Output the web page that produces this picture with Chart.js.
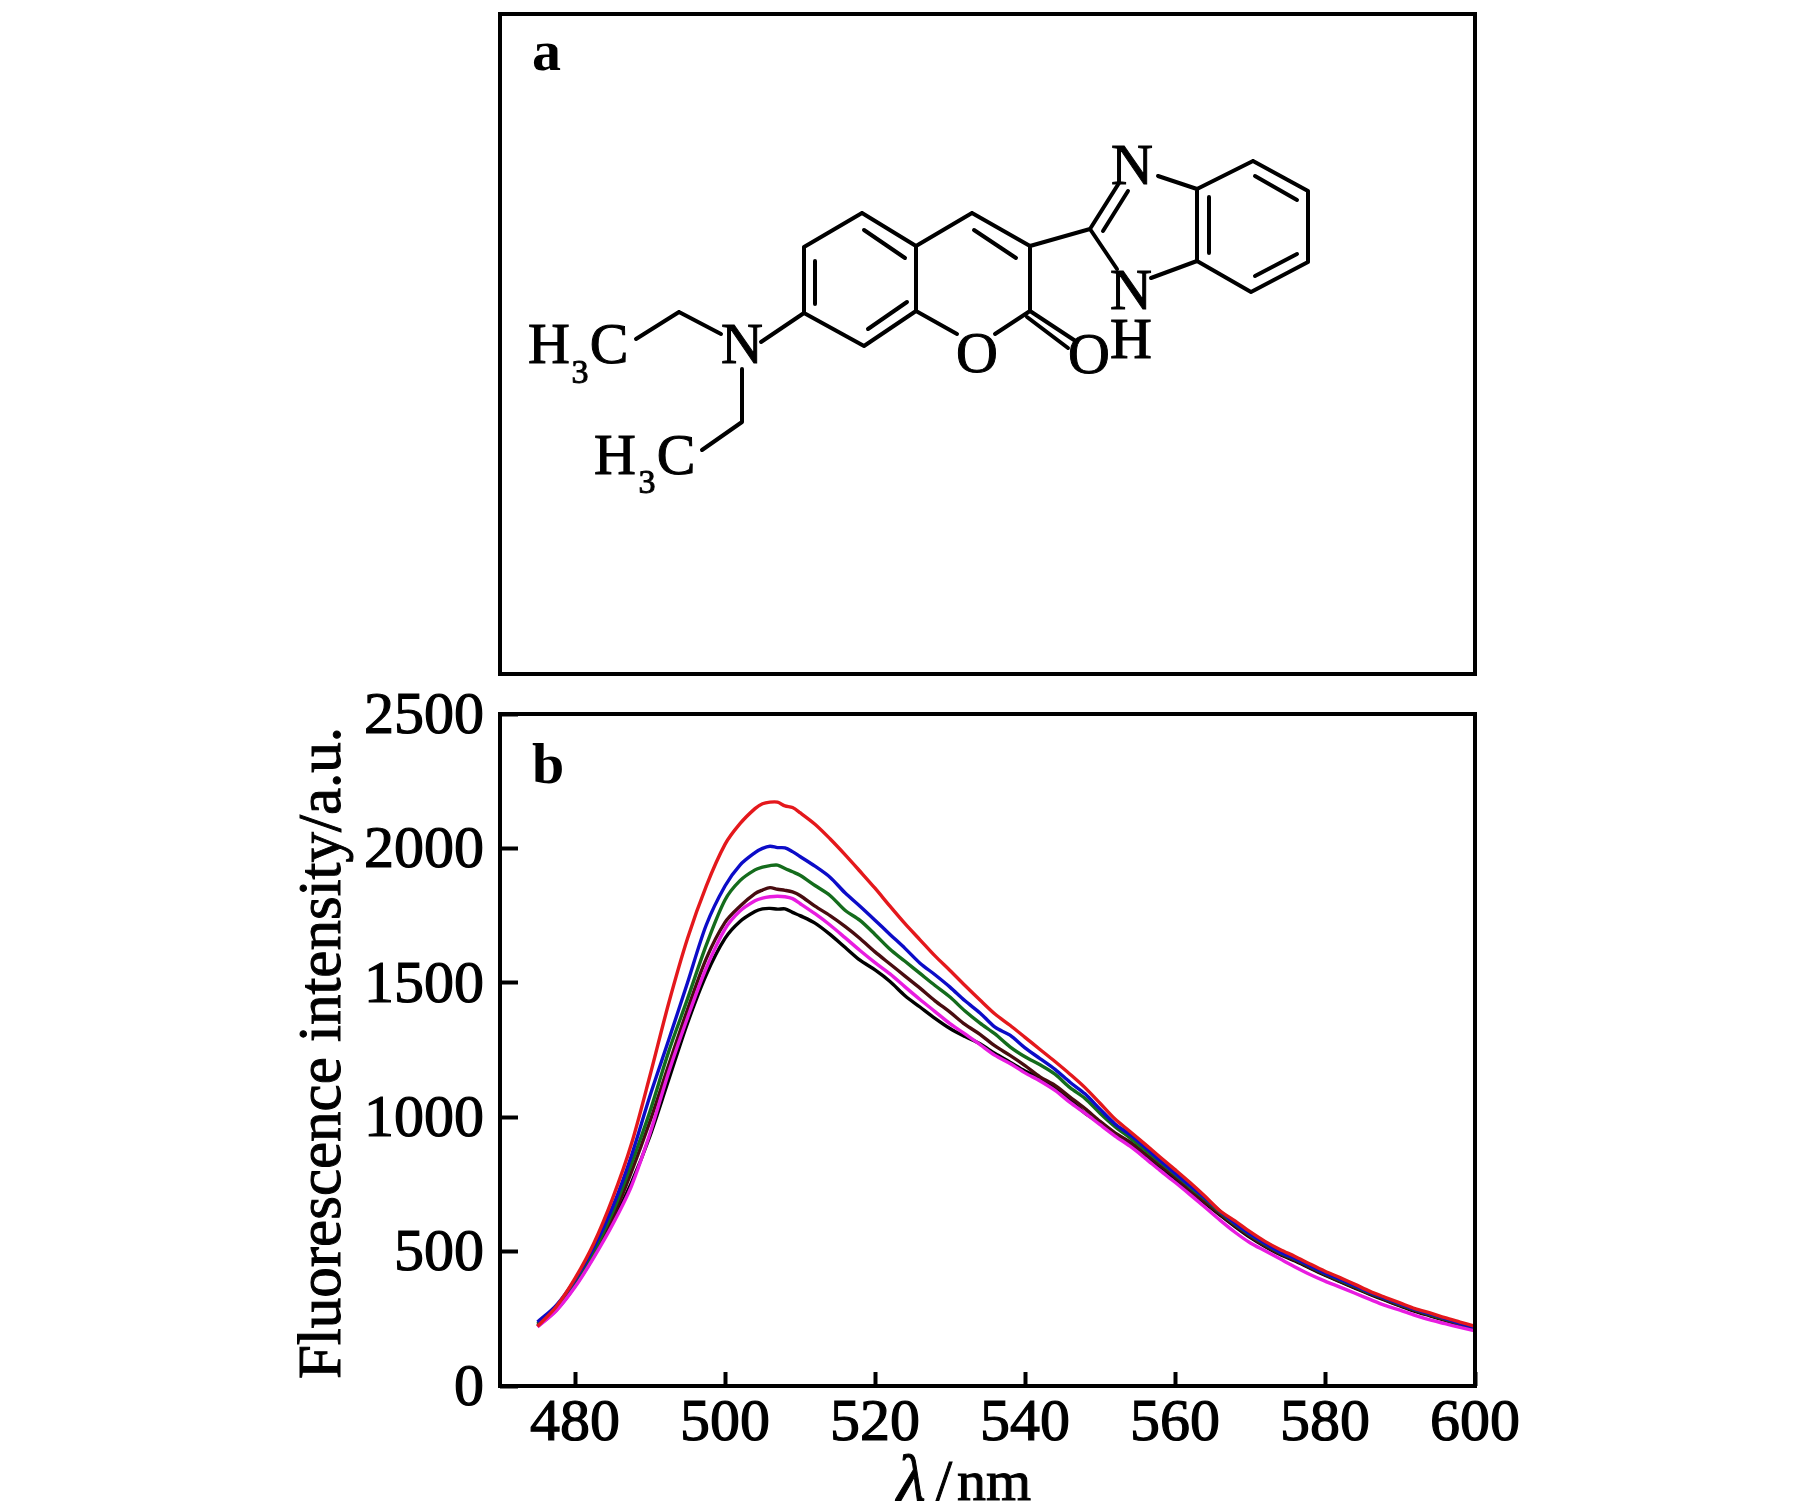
<!DOCTYPE html>
<html>
<head>
<meta charset="utf-8">
<style>
  html, body { margin: 0; padding: 0; background: #fff; }
  body { width: 1819px; height: 1512px; position: relative; overflow: hidden; }
  canvas { position: absolute; left: 0; }
  #structureChart { top: 0; }
  #spectraChart { top: 640px; }
</style>
<script src="https://cdn.jsdelivr.net/npm/chart.js@4/dist/chart.umd.min.js"></script>
</head>
<body>
<canvas id="structureChart" width="1819" height="690"></canvas>
<canvas id="spectraChart" width="1819" height="872"></canvas>
<script>
// Panel b data
const wavelengths = [475, 477.5, 480, 482.5, 485, 487.5, 490, 492.5, 495, 497.5, 500, 502, 504, 505, 506, 507, 508, 509, 510,
  512, 514, 516, 518, 520, 522, 524, 526, 528, 530, 532, 534, 536, 538, 540, 542, 544, 546, 548, 550, 552, 554, 556, 558,
  560, 562, 564, 566, 568, 570, 572, 574, 576, 578, 580, 582, 584, 586, 588, 590, 592, 594, 596, 598, 600];
const redSeries = [222, 295, 400, 530, 697, 898, 1155, 1425, 1665, 1860, 2015, 2092, 2148, 2166, 2172, 2172, 2158, 2152, 2133,
  2090, 2036, 1977, 1915, 1852, 1785, 1720, 1660, 1600, 1546, 1490, 1436, 1384, 1342, 1297, 1252, 1207, 1160, 1110, 1052, 993, 947, 900, 852,
  805, 757, 706, 652, 614, 574, 538, 508, 482, 454, 427, 403, 378, 352, 330, 309, 288, 272, 254, 238, 222];
const blueSeries = [238, 300, 395, 515, 665, 855, 1080, 1288, 1500, 1715, 1860, 1938, 1984, 2000, 2008, 2003, 2002, 1988, 1970,
  1934, 1893, 1835, 1785, 1733, 1680, 1628, 1573, 1530, 1484, 1433, 1388, 1335, 1305, 1258, 1218, 1178, 1130, 1087, 1030, 975, 935, 888, 839,
  792, 745, 700, 650, 605, 565, 530, 498, 474, 447, 420, 396, 372, 348, 326, 305, 285, 268, 251, 233, 217];
const greenSeries = [232, 292, 385, 500, 645, 825, 1022, 1245, 1440, 1640, 1808, 1880, 1920, 1930, 1936, 1938, 1925, 1913, 1900,
  1862, 1825, 1770, 1732, 1680, 1625, 1580, 1535, 1490, 1447, 1395, 1350, 1310, 1262, 1225, 1195, 1160, 1110, 1070, 1015, 965, 923, 878, 833,
  787, 740, 695, 647, 602, 562, 527, 496, 472, 445, 418, 394, 370, 346, 324, 303, 283, 266, 249, 232, 216];
const brownSeries = [226, 285, 378, 490, 625, 795, 985, 1195, 1400, 1590, 1725, 1785, 1832, 1845, 1854, 1848, 1844, 1838, 1825,
  1785, 1750, 1710, 1665, 1615, 1570, 1525, 1480, 1433, 1391, 1345, 1308, 1265, 1230, 1192, 1150, 1118, 1075, 1032, 985, 942, 908, 865, 821,
  777, 727, 684, 640, 597, 557, 522, 492, 468, 441, 414, 390, 366, 343, 321, 300, 280, 263, 246, 230, 214];
const magentaSeries = [220, 280, 368, 478, 600, 742, 940, 1168, 1370, 1555, 1700, 1767, 1805, 1815, 1820, 1822, 1820, 1813, 1795,
  1757, 1715, 1668, 1620, 1575, 1533, 1485, 1438, 1393, 1348, 1310, 1270, 1230, 1200, 1165, 1135, 1100, 1055, 1015, 972, 930, 892, 848, 802,
  758, 712, 665, 617, 572, 533, 503, 473, 443, 415, 390, 368, 345, 322, 300, 282, 263, 246, 232, 218, 205];
const blackSeries = [222, 282, 372, 482, 610, 755, 930, 1140, 1350, 1530, 1665, 1728, 1765, 1775, 1777, 1774, 1775, 1762, 1750,
  1722, 1680, 1632, 1584, 1548, 1505, 1452, 1410, 1368, 1330, 1300, 1273, 1237, 1205, 1172, 1145, 1108, 1065, 1015, 978, 938, 900, 855, 808,
  770, 722, 680, 636, 593, 553, 519, 489, 465, 438, 412, 388, 364, 341, 319, 298, 278, 261, 244, 228, 212];
const xTickValues = [480, 500, 520, 540, 560, 580, 600];
const yTickValues = [0, 500, 1000, 1500, 2000, 2500];

// Panel a: the molecule, as line segments x1, y1, x2, y2 in the panel's own units
const bondSegments = [
  [362, 199, 304, 233], [304, 233, 304, 299], [304, 299, 364, 332], [364, 332, 416, 297], [416, 297, 416, 232], [416, 232, 362, 199],
  [315, 247, 315, 290], [364, 216, 405, 244], [368, 315, 407, 288],
  [416, 232, 472, 199], [472, 199, 530, 232], [530, 232, 530, 297], [474, 216, 516, 244],
  [416, 297, 457, 320], [495, 320, 530, 297],
  [530, 297, 577, 328], [527, 303, 568, 334],
  [530, 232, 590, 215], [590, 215, 619, 169], [603, 217, 628, 177], [590, 215, 617, 255],
  [658, 162, 697, 175], [651, 264, 697, 247],
  [697, 175, 697, 247], [697, 175, 753, 147], [753, 147, 808, 177], [808, 177, 808, 248], [808, 248, 751, 278], [751, 278, 697, 247],
  [709, 183, 709, 239], [755, 162, 797, 186], [797, 240, 755, 262],
  [304, 299, 261, 328], [221, 320, 179, 298], [179, 298, 136, 325],
  [242, 355, 242, 408], [242, 408, 202, 436]
];
const atomLabels = [
  ['N', 242, 349, 58], ['H', 49, 349, 58], ['3', 80, 369, 34], ['C', 109, 349, 58],
  ['H', 115, 460, 58], ['3', 147, 479, 34], ['C', 176, 460, 58],
  ['O', 477, 358, 58], ['O', 589, 359, 58], ['H', 631, 344, 58],
  ['N', 632, 170, 58], ['N', 631, 295, 58]
];

const serif = '"Liberation Serif"';

// Text with a thin outline, the reference's type is heavier than the regular face
function heavyText(ctx, text, x, y, strokeWidth) {
  ctx.lineWidth = strokeWidth;
  ctx.strokeText(text, x, y);
  ctx.fillText(text, x, y);
}

// Frame shared by both panels, plus the panel letter
const framePlugin = {
  id: 'frame',
  afterDatasetsDraw(chart, args, opts) {
    const { ctx, chartArea: a } = chart;
    ctx.save();
    ctx.strokeStyle = '#000';
    ctx.lineWidth = 4;
    ctx.strokeRect(a.left, a.top, a.right - a.left, a.bottom - a.top);
    ctx.fillStyle = '#000';
    ctx.font = 'bold 58px ' + serif;
    ctx.textAlign = 'left';
    ctx.textBaseline = 'alphabetic';
    ctx.fillText(opts.letter, a.left + 32, a.top + opts.letterDrop);
    ctx.restore();
  }
};

const atomPlugin = {
  id: 'atoms',
  afterDatasetsDraw(chart) {
    const { ctx, scales } = chart;
    ctx.save();
    ctx.fillStyle = '#000';
    ctx.strokeStyle = '#000';
    ctx.textAlign = 'center';
    ctx.textBaseline = 'alphabetic';
    atomLabels.forEach(([text, x, y, size]) => {
      ctx.font = size + 'px ' + serif;
      heavyText(ctx, text, scales.x.getPixelForValue(x), scales.y.getPixelForValue(y), 1);
    });
    ctx.restore();
  }
};

// Axis titles: italic lambda and an outlined y title, which scale titles can't do
const axisTitlePlugin = {
  id: 'axisTitles',
  afterDraw(chart) {
    const { ctx } = chart;
    ctx.save();
    ctx.fillStyle = '#000';
    ctx.strokeStyle = '#000';
    ctx.textBaseline = 'alphabetic';
    ctx.textAlign = 'left';
    ctx.font = 'italic 66px ' + serif;
    heavyText(ctx, 'λ', 897, 860, 1);
    ctx.font = '58px ' + serif;
    heavyText(ctx, '/', 936, 860, 1);
    heavyText(ctx, 'nm', 957, 860, 1);
    ctx.translate(340, 413);
    ctx.rotate(-Math.PI / 2);
    ctx.textAlign = 'center';
    ctx.font = '61px ' + serif;
    heavyText(ctx, 'Fluorescence intensity/a.u.', 0, 0, 1);
    ctx.restore();
  }
};

new Chart(document.getElementById('structureChart'), {
  type: 'scatter',
  data: {
    datasets: [{
      data: bondSegments.flatMap(s => [{ x: s[0], y: s[1] }, { x: s[2], y: s[3] }, { x: null, y: null }]),
      showLine: true,
      pointRadius: 0,
      borderColor: '#000',
      borderWidth: 4,
      borderCapStyle: 'round',
      spanGaps: false
    }]
  },
  options: {
    responsive: false,
    animation: false,
    devicePixelRatio: 1,
    layout: { padding: { left: 500, right: 344, top: 14, bottom: 16 } },
    scales: {
      x: { type: 'linear', display: false, min: 0, max: 975 },
      y: { type: 'linear', display: false, min: 0, max: 660, reverse: true }
    },
    plugins: {
      legend: { display: false },
      tooltip: { enabled: false },
      frame: { letter: 'a', letterDrop: 56 }
    }
  },
  plugins: [framePlugin, atomPlugin]
});

const toPoints = values => values.map((v, i) => ({ x: wavelengths[i], y: v }));
const curve = (values, color) => ({
  data: toPoints(values),
  borderColor: color,
  borderWidth: 3.4,
  pointRadius: 0,
  showLine: true,
  tension: 0.3
});

new Chart(document.getElementById('spectraChart'), {
  type: 'scatter',
  data: {
    datasets: [
      curve(redSeries, '#e4181c'),
      curve(magentaSeries, '#e81ce0'),
      curve(blueSeries, '#0c0cc8'),
      curve(greenSeries, '#146c1c'),
      curve(brownSeries, '#480c10'),
      curve(blackSeries, '#000000')
    ]
  },
  options: {
    responsive: false,
    animation: false,
    devicePixelRatio: 1,
    layout: { padding: { left: 0, right: 344, top: 74, bottom: 0 } },
    scales: {
      x: {
        type: 'linear',
        min: 470,
        max: 600,
        afterFit: scale => { scale.height = 126; },
        afterBuildTicks: scale => { scale.ticks = xTickValues.map(v => ({ value: v })); },
        border: { display: false },
        grid: { drawOnChartArea: false, tickLength: -14, tickWidth: 4, tickColor: '#000' },
        ticks: {
          color: '#000',
          font: { family: serif, size: 60 },
          textStrokeColor: '#000',
          textStrokeWidth: 1.2,
          padding: 16,
          maxRotation: 0,
          autoSkip: false,
          callback: value => String(value)
        }
      },
      y: {
        type: 'linear',
        min: 0,
        max: 2500,
        afterFit: scale => { scale.width = 500; },
        afterBuildTicks: scale => { scale.ticks = yTickValues.map(v => ({ value: v })); },
        border: { display: false },
        grid: { drawOnChartArea: false, tickLength: -18, tickWidth: 4, tickColor: '#000' },
        ticks: {
          color: '#000',
          font: { family: serif, size: 60 },
          textStrokeColor: '#000',
          textStrokeWidth: 1.2,
          padding: 34,
          labelOffset: 3,
          autoSkip: false,
          callback: value => String(value)
        }
      }
    },
    plugins: {
      legend: { display: false },
      tooltip: { enabled: false },
      frame: { letter: 'b', letterDrop: 69 }
    }
  },
  plugins: [framePlugin, axisTitlePlugin]
});
</script>
</body>
</html>
